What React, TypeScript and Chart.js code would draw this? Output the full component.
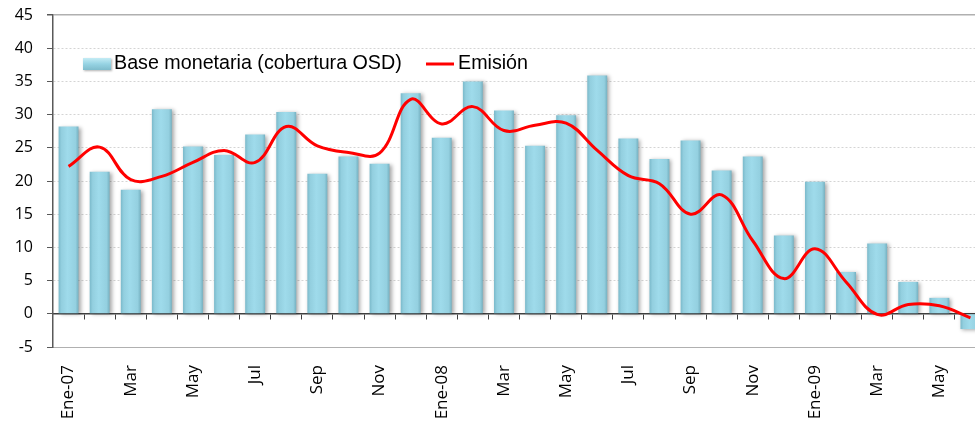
import React, { useEffect, useRef } from "react";
import { Chart, registerables } from "chart.js";

Chart.register(...registerables);

const months = [
  "Ene-07", "Feb", "Mar", "Abr", "May", "Jun", "Jul", "Ago", "Sep", "Oct", "Nov", "Dic",
  "Ene-08", "Feb", "Mar", "Abr", "May", "Jun", "Jul", "Ago", "Sep", "Oct", "Nov", "Dic",
  "Ene-09", "Feb", "Mar", "Abr", "May", "Jun",
];

const tickLabels = [
  "Ene-07", "", "Mar", "", "May", "", "Jul", "", "Sep", "", "Nov", "",
  "Ene-08", "", "Mar", "", "May", "", "Jul", "", "Sep", "", "Nov", "",
  "Ene-09", "", "Mar", "", "May", "",
];

const baseMonetaria = [
  28.2, 21.4, 18.7, 30.8, 25.2, 23.9, 27.0, 30.4, 21.1, 23.7, 22.6, 33.2,
  26.5, 35.0, 30.6, 25.3, 29.9, 35.9, 26.4, 23.3, 26.1, 21.6, 23.7, 11.8,
  19.9, 6.3, 10.6, 4.8, 2.4, -2.3,
];

const emision = [
  22.2, 25.1, 20.2, 20.7, 22.8, 24.6, 22.8, 28.2, 25.3, 24.3, 24.2, 32.3,
  28.6, 31.2, 27.6, 28.4, 28.7, 24.6, 20.8, 19.6, 15.0, 17.9, 11.0, 5.3,
  9.8, 4.8, -0.1, 1.4, 1.2, -0.6,
];

const seriesNames = ["Base monetaria (cobertura OSD)", "Emisión"];

const yTickFont = { family: "'Open Sans', sans-serif", size: 16 };
const xTickFont = { family: "'Open Sans', sans-serif", size: 17 };
const legendFont = "19.7px 'Liberation Sans', Arial, sans-serif";

const barShadow = {
  id: "barShadow",
  beforeDatasetDraw(chart: any, args: any) {
    if (args.meta.type !== "bar") return;
    const ctx = chart.ctx;
    ctx.save();
    ctx.shadowColor = "rgba(0,0,0,0.35)";
    ctx.shadowBlur = 4;
    ctx.shadowOffsetX = 2;
    ctx.shadowOffsetY = 1;
  },
  afterDatasetDraw(chart: any, args: any) {
    if (args.meta.type !== "bar") return;
    chart.ctx.restore();
  },
};

const customLegend = {
  id: "customLegend",
  afterDraw(chart: any) {
    const ctx = chart.ctx;
    const left = chart.chartArea.left;
    const cy = 64;
    ctx.save();
    const bx = left + 30;
    const g = ctx.createLinearGradient(0, cy - 6, 0, cy + 6);
    g.addColorStop(0, "#c4ecf5");
    g.addColorStop(0.5, "#96d3e3");
    g.addColorStop(1, "#7fbccc");
    ctx.fillStyle = g;
    ctx.shadowColor = "rgba(0,0,0,0.3)";
    ctx.shadowBlur = 2;
    ctx.shadowOffsetX = 1;
    ctx.shadowOffsetY = 1;
    ctx.fillRect(bx, cy - 6, 28, 12);
    ctx.shadowColor = "transparent";
    ctx.font = legendFont;
    ctx.fillStyle = "#000";
    ctx.textBaseline = "middle";
    ctx.textAlign = "left";
    ctx.fillText(chart.data.datasets[0].label, bx + 31, cy);
    const lx = left + 373;
    ctx.strokeStyle = "#ff0000";
    ctx.lineWidth = 3;
    ctx.beginPath();
    ctx.moveTo(lx, cy);
    ctx.lineTo(lx + 28, cy);
    ctx.stroke();
    ctx.fillText(chart.data.datasets[1].label, lx + 32, cy);
    ctx.restore();
  },
};

export default function App() {
  const canvasRef = useRef<HTMLCanvasElement | null>(null);

  useEffect(() => {
    const canvas = canvasRef.current;
    if (!canvas) return;
    const chart = new Chart(canvas, {
      type: "bar",
      data: {
        labels: months,
        datasets: [
          {
            type: "bar",
            label: seriesNames[0],
            data: baseMonetaria,
            order: 1,
            barPercentage: 0.64,
            categoryPercentage: 1,
            borderWidth: 0,
            backgroundColor: (c: any) => {
              const ch = c.chart;
              const fallback = "#93cfdf";
              if (c.type !== "data" || !ch.scales || !ch.scales.x) return fallback;
              const x = ch.scales.x.getPixelForValue(c.dataIndex);
              if (!Number.isFinite(x)) return fallback;
              const half = 10;
              const g = ch.ctx.createLinearGradient(x - half, 0, x + half, 0);
              g.addColorStop(0, "#7ab9ca");
              g.addColorStop(0.15, "#93cfdf");
              g.addColorStop(0.45, "#9fdbeb");
              g.addColorStop(0.85, "#94d0e0");
              g.addColorStop(1, "#75b0c0");
              return g;
            },
          } as any,
          {
            type: "line",
            label: seriesNames[1],
            data: emision,
            order: 0,
            borderColor: "#ff0000",
            borderWidth: 3,
            pointRadius: 0,
            tension: 0.4,
            fill: false,
          } as any,
        ],
      },
      options: {
        animation: false,
        responsive: true,
        maintainAspectRatio: false,
        layout: { padding: { left: 0, right: 0, top: 15, bottom: 0 } },
        plugins: {
          legend: { display: false },
          tooltip: { enabled: false },
          title: { display: false },
        },
        scales: {
          x: {
            type: "category",
            position: "bottom",
            offset: true,
            grid: { display: false, drawTicks: false },
            border: { display: true, color: "#b0b0b0", width: 1 },
            ticks: {
              autoSkip: false,
              maxRotation: 90,
              minRotation: 90,
              padding: 18,
              color: "#000",
              font: xTickFont,
              callback: (_v: any, i: number) => tickLabels[i],
            },
            afterFit: (s: any) => {
              s.height = 76;
              s.paddingLeft = 0;
              s.paddingRight = 0;
            },
          },
          x2: {
            type: "category",
            position: { y: 0 },
            offset: true,
            z: 1,
            grid: {
              offset: true,
              drawOnChartArea: false,
              drawTicks: true,
              tickLength: 5,
              tickColor: "#404040",
              tickWidth: 1,
            },
            border: { display: true, color: "#404040", width: 1.5 },
            ticks: { display: false },
            afterFit: (s: any) => {
              s.paddingLeft = 0;
              s.paddingRight = 0;
            },
          },
          y: {
            min: -5,
            max: 45,
            ticks: {
              stepSize: 5,
              padding: 14,
              color: "#000",
              font: yTickFont,
            },
            grid: {
              drawTicks: true,
              tickLength: 6,
              tickColor: "#595959",
              color: (c: any) => {
                const v = c.tick ? c.tick.value : null;
                if (v === 45 || v === -5) return "#b0b0b0";
                if (v === 0) return "rgba(0,0,0,0)";
                return "#d4d4d4";
              },
              lineWidth: (c: any) => {
                const v = c.tick ? c.tick.value : null;
                return v === 45 ? 1.5 : 1;
              },
            },
            border: {
              display: true,
              color: "#595959",
              width: 1.5,
              dash: (c: any) => {
                if (!c || c.type !== "tick" || !c.tick) return [];
                const v = c.tick.value;
                if (v === 45 || v === -5 || v === 0) return [];
                return [2, 2];
              },
            },
            afterFit: (s: any) => {
              s.width = 53;
              s.paddingTop = 0;
              s.paddingBottom = 0;
            },
          },
        },
      } as any,
      plugins: [barShadow, customLegend],
    });
    return () => chart.destroy();
  }, []);

  return (
    <div
      style={{
        position: "fixed",
        left: 0,
        top: 0,
        width: 975,
        height: 423,
        overflow: "hidden",
        background: "#fff",
      }}
    >
      <div style={{ position: "relative", width: 986, height: 423 }}>
        <canvas ref={canvasRef} />
      </div>
    </div>
  );
}
